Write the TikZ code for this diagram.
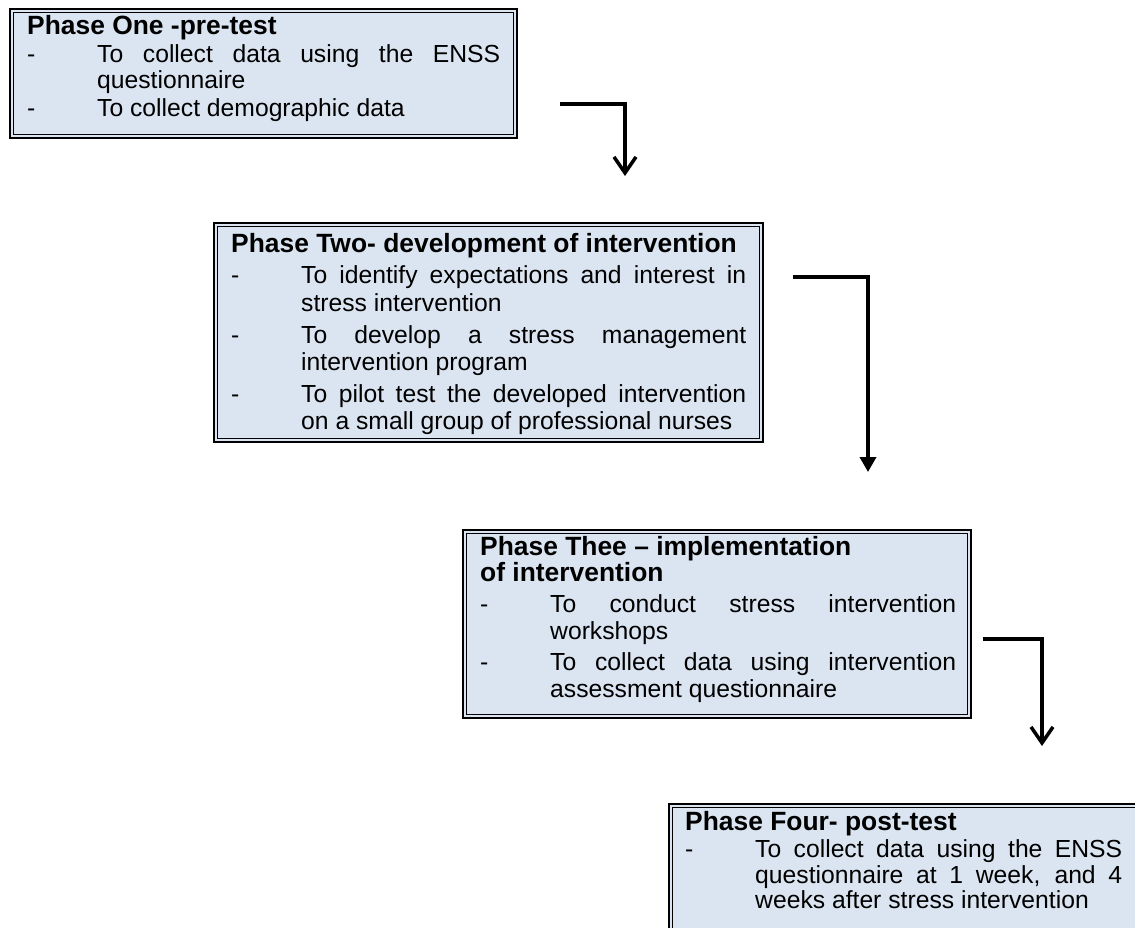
\documentclass[tikz,border=0pt]{standalone}
\usepackage{fontspec}
\setmainfont{Liberation Sans}
\usetikzlibrary{arrows.meta}
\definecolor{phaseblue}{RGB}{219,229,241}
\newcommand{\phasetitle}[1]{{\fontsize{26.4}{28.6}\selectfont\bfseries #1}}
\newcommand{\phaseitem}[2][4pt]{\par\vspace{#1}\hangindent=70pt\hangafter=0\noindent\llap{\makebox[70pt][l]{-}}#2\par}
\hyphenpenalty=10000
\tolerance=9999
\hbadness=10000

\begin{document}
\begin{tikzpicture}[x=1pt, y=-1pt,
    outerline/.style={draw=black, line width=2.6pt, fill=phaseblue},
    innerline/.style={draw=black, line width=1.1pt},
    phasetext/.style={anchor=base west, inner sep=0pt, align=justify, font=\fontsize{24.7}{26.8}\selectfont},
    openarrow/.style={-{Straight Barb[length=16pt,width=22pt]}, line width=3.5pt},
    filledarrow/.style={-{Triangle[length=15pt,width=16pt]}, line width=3.5pt}]
    \useasboundingbox (0,0) rectangle (1135,928);
    \clip (0,0) rectangle (1135,928);

    % Phase one
    \draw[outerline] (10,9) rectangle (517,138);
    \draw[innerline] (13.5,12.5) rectangle (513.5,134.5);
    \node[phasetext, text width=473pt, font=\fontsize{24.7}{26.4}\selectfont] (p1) at (27,35) {\phasetitle{Phase One -pre-test}
      \phaseitem[1pt]{To collect data using the ENSS\linebreak questionnaire}
      \phaseitem[1pt]{To collect demographic data}};

    % Phase two
    \draw[outerline] (214,223) rectangle (763,442);
    \draw[innerline] (217.5,226.5) rectangle (759.5,438.5);
    \node[phasetext, text width=515pt, font=\fontsize{24.7}{27}\selectfont] (p2) at (231,252) {\phasetitle{Phase Two- development of intervention}
      \phaseitem[5pt]{To identify expectations and interest in\linebreak stress intervention}
      \phaseitem[5pt]{To develop a stress management\linebreak intervention program}
      \phaseitem[5pt]{To pilot test the developed intervention\linebreak on a small group of professional nurses}};

    % Phase three
    \draw[outerline] (463,530) rectangle (971,718);
    \draw[innerline] (466.5,533.5) rectangle (967.5,714.5);
    \node[phasetext, text width=476pt] (p3) at (480,555) {\phasetitle{Phase Thee – implementation\newline of intervention}
      \phaseitem{To conduct stress intervention\linebreak workshops}
      \phaseitem{To collect data using intervention\linebreak assessment questionnaire}};

    % Phase four (runs off the page)
    \draw[outerline] (669,804) rectangle (1160,960);
    \draw[innerline] (672.5,807.5) rectangle (1156,956);
    \node[phasetext, text width=437pt, font=\fontsize{24.7}{25.5}\selectfont] (p4) at (685,830) {\phasetitle{Phase Four- post-test}
      \phaseitem[2pt]{To collect data using the ENSS\linebreak questionnaire at 1 week, and 4\linebreak weeks after stress intervention}};

    % Arrows
    \coordinate (a1s) at (560,104);
    \coordinate (a1e) at (625,176);
    \draw[openarrow] (a1s) -| (a1e);
    \coordinate (a2s) at (793,277);
    \coordinate (a2e) at (868,472);
    \draw[filledarrow] (a2s) -| (a2e);
    \coordinate (a3s) at (983,639);
    \coordinate (a3e) at (1042,746);
    \draw[openarrow] (a3s) -| (a3e);
\end{tikzpicture}
\end{document}
